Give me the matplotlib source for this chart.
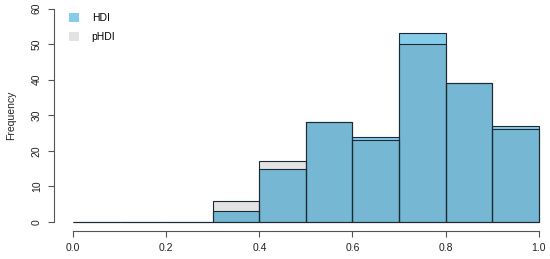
import numpy as np
import matplotlib
matplotlib.use("Agg")
import matplotlib.pyplot as plt
from matplotlib.patches import Patch

bin_edges = [0.0, 0.1, 0.2, 0.3, 0.4, 0.5, 0.6, 0.7, 0.8, 0.9, 1.0]
hdi_counts = [0, 0, 0, 3, 15, 28, 24, 53, 39, 27]
phdi_counts = [0, 0, 0, 6, 17, 28, 23, 50, 39, 26]
series_labels = ["HDI", "pHDI"]
x_ticks = [0.0, 0.2, 0.4, 0.6, 0.8, 1.0]
y_ticks = [0, 10, 20, 30, 40, 50, 60]

plt.rcParams["font.family"] = ["Liberation Sans", "DejaVu Sans"]

hdi_color = "#85cbea"
phdi_color = "#e3e3e3"
overlap_color = "#76b8d4"
edge = "#1e2a33"

fig = plt.figure(figsize=(5.5, 2.59), dpi=100)
ax = fig.add_axes([54.4 / 550, 1 - 230.5 / 259, 503 / 550, 230.5 / 259])

lefts = np.array(bin_edges[:-1])
w = np.diff(bin_edges)
h = np.array(hdi_counts)
p = np.array(phdi_counts)
m = np.minimum(h, p)

ax.bar(lefts, m, width=w, align="edge", color=overlap_color, linewidth=0)
ax.bar(lefts, h - m, bottom=m, width=w, align="edge", color=hdi_color, linewidth=0)
ax.bar(lefts, p - m, bottom=m, width=w, align="edge", color=phdi_color, linewidth=0)
ax.bar(lefts, h, width=w, align="edge", fill=False, edgecolor=edge, linewidth=0.8)
ax.bar(lefts, p, width=w, align="edge", fill=False, edgecolor=edge, linewidth=0.8)

ax.set_xlim(-0.04, 1.04)
ax.set_ylim(-2.4, 62.4)
for s in ["top", "right"]:
    ax.spines[s].set_visible(False)
ax.spines["bottom"].set_bounds(0, 1)
ax.spines["left"].set_bounds(0, 60)
for s in ["bottom", "left"]:
    ax.spines[s].set_color("#555555")
    ax.spines[s].set_linewidth(0.8)
ax.set_xticks(x_ticks)
ax.set_xticklabels([f"{t:.1f}" for t in x_ticks])
ax.set_yticks(y_ticks)
ax.set_yticklabels([str(t) for t in y_ticks], rotation=90, va="center")
ax.tick_params(axis="both", labelsize=7.5, color="#555555", length=4, width=0.8, labelcolor="#222222", pad=5)
ax.set_ylabel("Frequency", fontsize=7.5, color="#222222", labelpad=11)

handles = [Patch(facecolor=hdi_color, edgecolor="none"), Patch(facecolor=phdi_color, edgecolor="none")]
ax.legend(handles, series_labels, loc="upper left", bbox_to_anchor=(0.01, 0.985), frameon=False,
          fontsize=7.5, handlelength=1.0, handleheight=1.0, labelspacing=0.85, handletextpad=1.2)

fig.savefig("out.png", dpi=100)
